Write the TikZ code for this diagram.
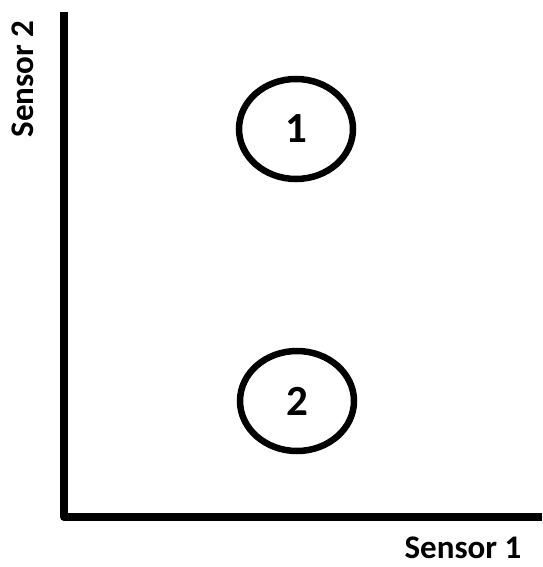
\documentclass[tikz,border=0pt]{standalone}
\usepackage{fontspec}
\setmainfont{Carlito}
\usetikzlibrary{shapes.geometric}
\begin{document}
\begin{tikzpicture}[x=1pt,y=-1pt,
  axis/.style={line width=8pt,line join=round,line cap=butt},
  cluster/.style={draw,ellipse,line width=6.5pt,minimum width=114pt,minimum height=100pt,inner sep=0pt,font=\bfseries\fontsize{43}{46}\selectfont},
  axislabel/.style={font=\bfseries\fontsize{33}{36}\selectfont,inner sep=0pt}]
\useasboundingbox (0,0) rectangle (542,567);
\coordinate (ytop) at (64,12);
\coordinate (origin) at (64,517);
\coordinate (xend) at (542,517);
\draw[axis] (ytop) -- (origin) -- (xend);
\node[cluster] (c1) at (296,129) {1};
\node[cluster] (c2) at (297,401) {2};
\node[axislabel,anchor=center] (xlab) at (463,548) {Sensor 1};
\node[axislabel,rotate=90,anchor=center] (ylab) at (23,79) {Sensor 2};
\end{tikzpicture}
\end{document}
